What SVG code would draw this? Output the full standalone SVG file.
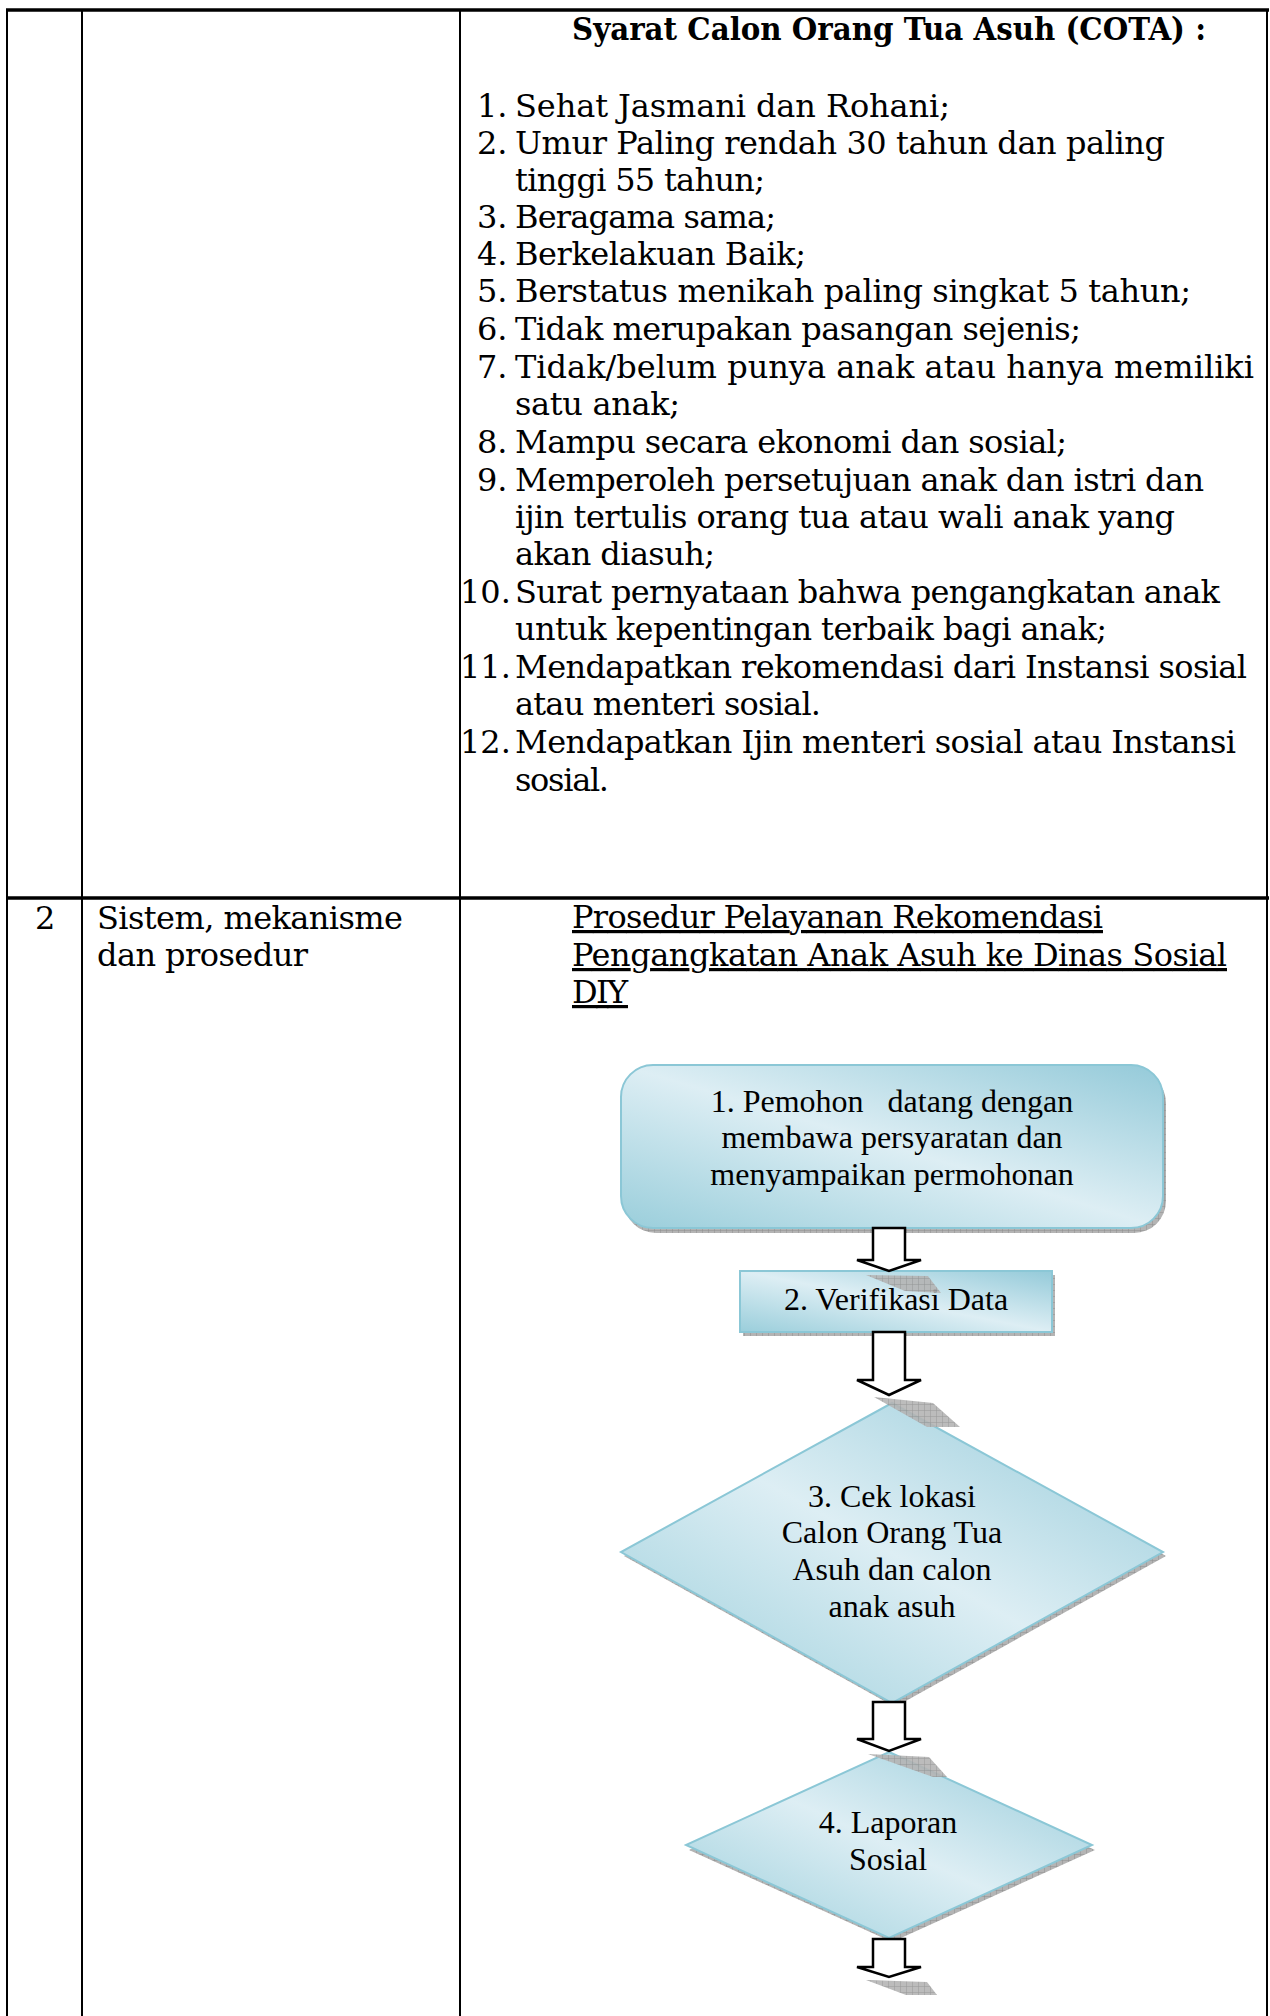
<svg xmlns="http://www.w3.org/2000/svg" width="1270" height="2016" viewBox="0 0 1270 2016">
<style>
.grid{stroke:#000;fill:none;stroke-width:2}
.thick{stroke:#000;stroke-width:3.5}
.t{font-family:"DejaVu Serif","Liberation Serif",serif;font-size:32px;fill:#000}
.hb{font-weight:bold}
.u{text-decoration:underline;text-decoration-thickness:2px}
.f{font-family:"Liberation Serif","Times New Roman",serif;font-size:32px;fill:#000;text-anchor:middle}
.node{stroke:#8bc7d6;stroke-width:2;fill:url(#gNode)}
.shadow{fill:url(#hatch)}
.arrow{fill:#fff;stroke:#000;stroke-width:2.5;stroke-linejoin:miter}
.ash{fill:url(#hatch);opacity:0.9}
</style>
<defs>
<linearGradient id="gNode" x1="0" y1="1" x2="1" y2="0">
<stop offset="0" stop-color="#9acedb"/>
<stop offset="0.5" stop-color="#ddeef4"/>
<stop offset="1" stop-color="#94cad9"/>
</linearGradient>
<pattern id="hatch" width="6" height="6" patternUnits="userSpaceOnUse">
<rect width="6" height="6" fill="#b4b4b4"/>
<path d="M0,0H6M0,0V6" stroke="#8e8e8e" stroke-width="1"/>
</pattern>
</defs>

<g id="table">
<line class="thick" x1="6" y1="10" x2="1269" y2="10"/>
<line class="thick" x1="6" y1="898" x2="1269" y2="898"/>
<line class="grid" x1="7" y1="10" x2="7" y2="2016"/>
<line class="grid" x1="82" y1="10" x2="82" y2="2016"/>
<line class="grid" x1="460" y1="10" x2="460" y2="2016"/>
<line class="grid" x1="1267" y1="10" x2="1267" y2="2016"/>
</g>

<g id="requirements">
<text class="t hb" x="572" y="40" textLength="634" lengthAdjust="spacingAndGlyphs">Syarat Calon Orang Tua Asuh (COTA) :</text>
<text class="t" x="477" y="117">1.</text><text class="t" x="515" y="117" textLength="435">Sehat Jasmani dan Rohani;</text>
<text class="t" x="477" y="153.5">2.</text><text class="t" x="515" y="153.5" textLength="650">Umur Paling rendah 30 tahun dan paling</text>
<text class="t" x="515" y="190.5" textLength="250">tinggi 55 tahun;</text>
<text class="t" x="477" y="227.5">3.</text><text class="t" x="515" y="227.5" textLength="261">Beragama sama;</text>
<text class="t" x="477" y="264.5">4.</text><text class="t" x="515" y="264.5" textLength="291">Berkelakuan Baik;</text>
<text class="t" x="477" y="302">5.</text><text class="t" x="515" y="302" textLength="676">Berstatus menikah paling singkat 5 tahun;</text>
<text class="t" x="477" y="340">6.</text><text class="t" x="515" y="340" textLength="566">Tidak merupakan pasangan sejenis;</text>
<text class="t" x="477" y="377.5">7.</text><text class="t" x="515" y="377.5" textLength="739">Tidak/belum punya anak atau hanya memiliki</text>
<text class="t" x="515" y="415" textLength="165">satu anak;</text>
<text class="t" x="477" y="453">8.</text><text class="t" x="515" y="453" textLength="552">Mampu secara ekonomi dan sosial;</text>
<text class="t" x="477" y="490.5">9.</text><text class="t" x="515" y="490.5" textLength="689">Memperoleh persetujuan anak dan istri dan</text>
<text class="t" x="515" y="528" textLength="660">ijin tertulis orang tua atau wali anak yang</text>
<text class="t" x="515" y="565" textLength="200">akan diasuh;</text>
<text class="t" x="460" y="603">10.</text><text class="t" x="515" y="603" textLength="705">Surat pernyataan bahwa pengangkatan anak</text>
<text class="t" x="515" y="640" textLength="592">untuk kepentingan terbaik bagi anak;</text>
<text class="t" x="460" y="678">11.</text><text class="t" x="515" y="678" textLength="732">Mendapatkan rekomendasi dari Instansi sosial</text>
<text class="t" x="515" y="715" textLength="306">atau menteri sosial.</text>
<text class="t" x="460" y="753">12.</text><text class="t" x="515" y="753" textLength="721">Mendapatkan Ijin menteri sosial atau Instansi</text>
<text class="t" x="515" y="791" textLength="94">sosial.</text>
</g>

<g id="row2">
<text class="t" x="35" y="929">2</text>
<text class="t" x="97" y="929" textLength="306">Sistem, mekanisme</text>
<text class="t" x="97" y="966" textLength="211">dan prosedur</text>
<text class="t u" x="572" y="928" textLength="531">Prosedur Pelayanan Rekomendasi</text>
<text class="t u" x="572" y="966" textLength="655">Pengangkatan Anak Asuh ke Dinas Sosial</text>
<text class="t u" x="572" y="1003" textLength="56">DIY</text>
</g>

<g id="node1">
<rect class="shadow" x="624" y="1071" width="542" height="162" rx="32"/>
<rect class="node" x="621" y="1065" width="542" height="163" rx="32"/>
<text class="f" x="892" y="1112" xml:space="preserve">1. Pemohon   datang dengan</text>
<text class="f" x="892" y="1148">membawa persyaratan dan</text>
<text class="f" x="892" y="1185">menyampaikan permohonan</text>
</g>

<g id="node2">
<rect class="shadow" x="743" y="1275" width="312" height="61"/>
<rect class="node" x="740" y="1271" width="312" height="61"/>
<text class="f" x="896" y="1310">2. Verifikasi Data</text>
</g>

<g id="node3">
<polygon class="shadow" points="895,1407 1166,1556 895,1707 624,1556"/>
<polygon class="node" points="892,1403 1163,1552 892,1703 621,1552"/>
<text class="f" x="892" y="1507">3. Cek lokasi</text>
<text class="f" x="892" y="1543">Calon Orang Tua</text>
<text class="f" x="892" y="1580">Asuh dan calon</text>
<text class="f" x="892" y="1617">anak asuh</text>
</g>

<g id="node4">
<polygon class="shadow" points="892,1756 1095,1850 892,1942 689,1850"/>
<polygon class="node" points="889,1752 1092,1845 889,1938 686,1845"/>
<text class="f" x="888" y="1833">4. Laporan</text>
<text class="f" x="888" y="1870">Sosial</text>
</g>

<g id="connectors">
<polygon class="ash" points="866,1275 928,1276 941,1293 905,1291"/>
<path class="arrow" d="M873,1228V1260H857L889,1271L921,1260H905V1228Z"/>
<polygon class="ash" points="874,1397 933,1403 960,1427 927,1427"/>
<path class="arrow" d="M873,1332V1380H857L889,1395L921,1380H905V1332Z"/>
<polygon class="ash" points="868,1754 929,1757 947,1777 933,1777"/>
<path class="arrow" d="M873,1702V1739H857L889,1751L921,1739H905V1702Z"/>
<polygon class="ash" points="866,1980 927,1982 937,1995 906,1995"/>
<path class="arrow" d="M873,1939V1967H857L889,1977L921,1967H905V1939Z"/>
</g>
</svg>
